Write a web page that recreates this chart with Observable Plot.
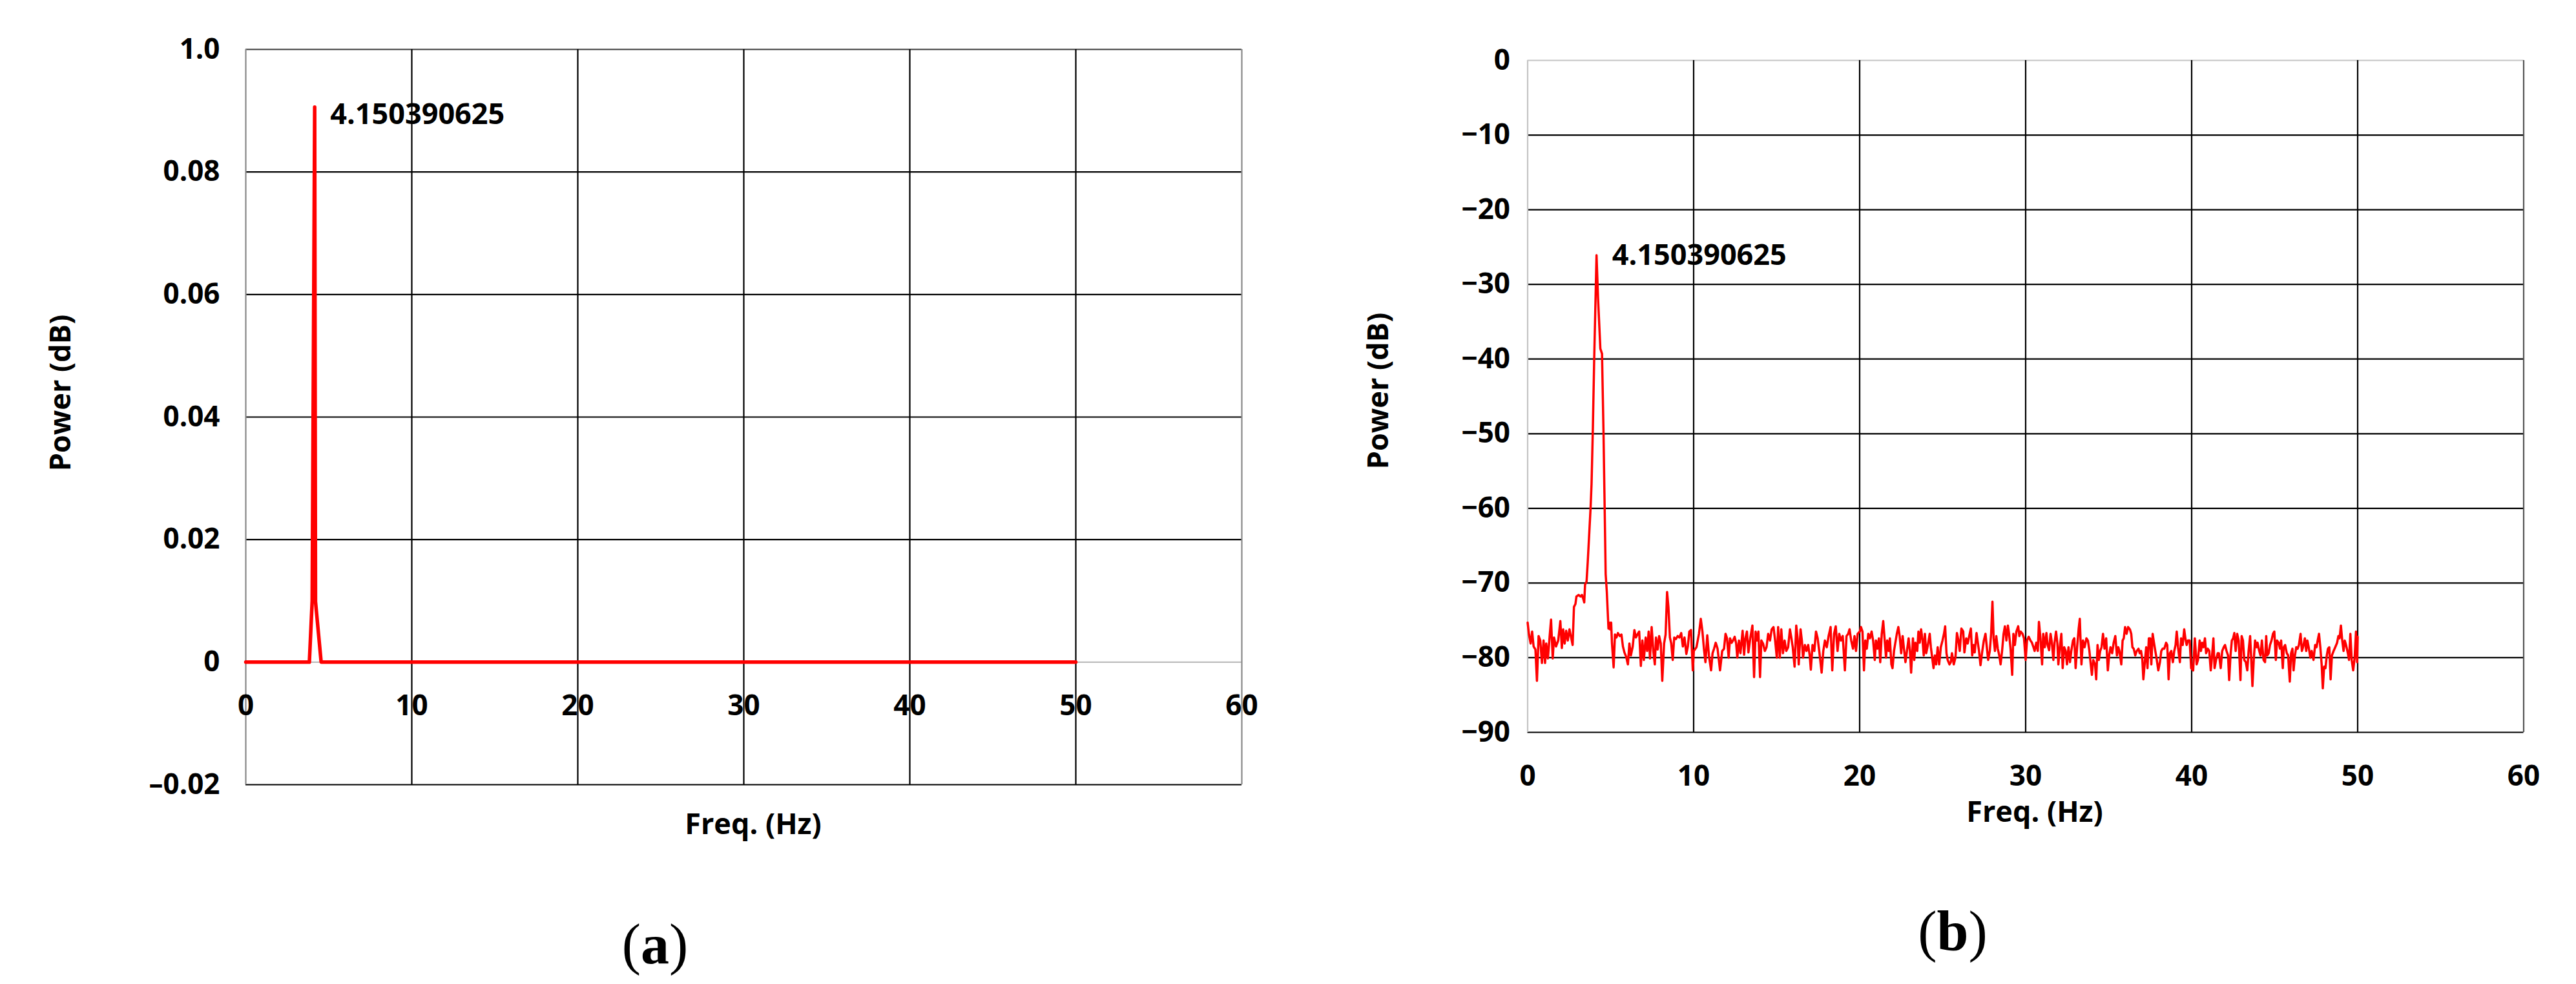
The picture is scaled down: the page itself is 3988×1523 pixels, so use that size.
<!DOCTYPE html>
<html><head><meta charset="utf-8">
<script src="https://cdn.jsdelivr.net/npm/d3@7"></script>
<script src="https://cdn.jsdelivr.net/npm/@observablehq/plot@0.6"></script>
<style>
html,body{margin:0;padding:0;background:#fff;}
#fig{position:relative;width:3988px;height:1523px;background:#fff;overflow:hidden;}
.panel{position:absolute;top:0;}
.lab{position:absolute;font-family:"Open Sans",sans-serif;font-weight:700;font-size:45px;color:#000;white-space:nowrap;transform:translate(-50%,-50%);}
.ylab{transform:translate(-50%,-50%) rotate(-90deg);}
.cap{position:absolute;font-family:"Liberation Serif","Times New Roman",serif;font-size:88px;color:#000;white-space:nowrap;transform:translate(-50%,-50%);}
.cap b{font-weight:700;}
</style></head>
<body><div id="fig"></div>
<script>
// ---------- data ----------
const xTicks = [0, 10, 20, 30, 40, 50, 60];
const yTicksA = [-0.02, 0, 0.02, 0.04, 0.06, 0.08, 0.10];
const yTickLabelsA = ["–0.02", "0", "0.02", "0.04", "0.06", "0.08", "1.0"];
const yTicksB = [-90, -80, -70, -60, -50, -40, -30, -20, -10, 0];
const peakLabel = "4.150390625";
const xLabel = "Freq. (Hz)";
const yLabel = "Power (dB)";

// Panel (a): linear power spectrum
const freqA = [0, 3.83, 4.0, 4.150390625, 4.2, 4.54, 50];
const powerA = [0, 0, 0.01, 0.0906, 0.0099, 0, 0];

// Panel (b): power spectrum in dB, [freq, dB]
const specB_0_10 = [[0.00,-75.3],[0.08,-76.9],[0.18,-78.1],[0.27,-76.5],[0.36,-78.5],[0.47,-78.9],[0.56,-83.1],[0.66,-77.1],[0.76,-77.7],[0.86,-80.7],[0.96,-77.7],[1.05,-80.7],[1.12,-78.1],[1.22,-80.1],[1.32,-77.3],[1.41,-74.9],[1.51,-80.1],[1.59,-77.3],[1.71,-78.5],[1.84,-77.7],[1.97,-75.1],[2.06,-78.7],[2.14,-76.2],[2.23,-78.1],[2.32,-76.4],[2.42,-77.7],[2.52,-76.2],[2.62,-77.3],[2.71,-78.3],[2.79,-73.2],[2.88,-72.8],[2.94,-71.8],[3.07,-71.6],[3.18,-71.8],[3.27,-71.6],[3.36,-72.2],[3.41,-72.6],[3.46,-70.2],[3.55,-69.8],[3.62,-67.2],[3.79,-60.0],[3.85,-56.7],[3.93,-49.1],[4.01,-39.9],[4.10,-31.0],[4.150390625,-26.1],[4.24,-31.8],[4.38,-38.6],[4.48,-39.3],[4.57,-49.9],[4.64,-60.0],[4.70,-68.8],[4.77,-71.2],[4.87,-76.1],[4.92,-75.3],[4.96,-76.2],[5.03,-75.3],[5.08,-78.1],[5.18,-81.3],[5.26,-76.9],[5.35,-77.3],[5.44,-76.7],[5.55,-77.1],[5.65,-76.9],[5.74,-78.5],[5.83,-79.3],[5.94,-79.9],[6.04,-80.9],[6.13,-78.1],[6.22,-79.7],[6.33,-78.5],[6.43,-76.3],[6.52,-77.3],[6.61,-76.9],[6.72,-76.5],[6.82,-81.1],[6.91,-77.7],[7.00,-80.3],[7.11,-77.3],[7.20,-79.1],[7.29,-76.5],[7.37,-80.1],[7.47,-75.9],[7.57,-79.1],[7.66,-80.9],[7.73,-77.3],[7.83,-78.9],[7.92,-77.1],[8.02,-78.1],[8.11,-83.1],[8.22,-78.1],[8.31,-76.9],[8.40,-71.2],[8.48,-73.2],[8.57,-77.3],[8.65,-78.1],[8.74,-80.3],[8.83,-77.3],[8.93,-77.5],[9.04,-77.1],[9.14,-77.3],[9.25,-76.7],[9.35,-78.5],[9.45,-77.3],[9.56,-79.5],[9.65,-78.5],[9.74,-76.5],[9.84,-76.3],[9.95,-81.7]];
const specB_10_20 = [[10.01,-79.1],[10.17,-78.6],[10.32,-76.8],[10.43,-74.8],[10.53,-76.5],[10.62,-78.8],[10.71,-80.6],[10.82,-77.0],[10.92,-79.7],[11.05,-81.7],[11.14,-79.4],[11.23,-78.8],[11.33,-78.0],[11.44,-78.8],[11.59,-81.7],[11.72,-79.1],[11.83,-78.8],[11.92,-76.8],[12.01,-77.4],[12.11,-80.0],[12.19,-77.4],[12.29,-78.0],[12.37,-77.7],[12.47,-77.2],[12.56,-78.1],[12.63,-80.0],[12.73,-77.7],[12.82,-79.4],[12.95,-76.4],[13.04,-79.6],[13.12,-77.4],[13.21,-76.5],[13.30,-79.3],[13.41,-77.4],[13.54,-75.7],[13.64,-82.6],[13.73,-76.5],[13.82,-77.7],[13.90,-76.5],[14.00,-82.6],[14.08,-77.7],[14.18,-78.1],[14.29,-79.1],[14.39,-78.6],[14.49,-76.8],[14.60,-77.7],[14.70,-76.2],[14.81,-75.9],[14.91,-77.7],[15.01,-80.0],[15.09,-75.9],[15.19,-80.0],[15.28,-76.2],[15.38,-79.4],[15.48,-77.7],[15.58,-79.1],[15.69,-78.6],[15.80,-76.2],[15.89,-77.4],[15.97,-78.6],[16.08,-81.2],[16.18,-75.7],[16.26,-77.4],[16.33,-80.9],[16.44,-76.2],[16.52,-77.7],[16.59,-80.0],[16.70,-78.3],[16.80,-79.1],[16.90,-78.3],[16.99,-79.7],[17.06,-81.6],[17.16,-78.3],[17.27,-79.1],[17.37,-76.5],[17.47,-77.4],[17.58,-79.4],[17.71,-82.0],[17.81,-79.1],[17.91,-77.7],[18.02,-78.6],[18.13,-77.1],[18.25,-75.9],[18.35,-81.7],[18.46,-76.8],[18.56,-75.8],[18.67,-79.1],[18.77,-76.8],[18.87,-77.7],[18.98,-77.1],[19.11,-81.7],[19.21,-77.1],[19.31,-76.8],[19.39,-76.2],[19.49,-77.7],[19.60,-78.8],[19.69,-77.1],[19.78,-79.1],[19.88,-76.8],[20.01,-76.5]];
const specB_20_30 = [[20.08,-75.9],[20.17,-76.5],[20.26,-81.7],[20.34,-77.7],[20.43,-78.8],[20.52,-76.8],[20.62,-77.4],[20.72,-76.5],[20.81,-77.7],[20.91,-80.3],[20.98,-77.7],[21.07,-78.8],[21.16,-77.4],[21.24,-80.6],[21.33,-76.8],[21.42,-75.1],[21.50,-77.4],[21.59,-80.0],[21.66,-77.7],[21.75,-79.1],[21.82,-77.4],[21.91,-80.9],[21.98,-81.4],[22.07,-79.1],[22.15,-78.0],[22.24,-76.8],[22.33,-75.9],[22.41,-77.1],[22.50,-79.4],[22.59,-77.1],[22.66,-78.6],[22.76,-80.6],[22.85,-79.1],[22.95,-77.4],[23.03,-79.1],[23.10,-82.0],[23.21,-77.4],[23.29,-80.3],[23.36,-78.0],[23.47,-79.1],[23.54,-76.5],[23.62,-78.0],[23.70,-76.2],[23.79,-77.7],[23.86,-79.7],[23.93,-76.8],[24.01,-79.4],[24.11,-78.3],[24.22,-76.8],[24.29,-78.6],[24.37,-80.0],[24.45,-81.4],[24.53,-79.7],[24.61,-80.9],[24.70,-78.6],[24.79,-80.9],[24.89,-78.6],[24.99,-77.7],[25.08,-76.8],[25.15,-75.8],[25.23,-79.4],[25.30,-80.3],[25.41,-80.9],[25.49,-80.6],[25.56,-79.4],[25.67,-80.9],[25.77,-80.0],[25.86,-76.7],[25.95,-77.7],[26.03,-79.1],[26.13,-76.1],[26.24,-76.5],[26.31,-79.3],[26.42,-77.4],[26.51,-78.1],[26.60,-77.1],[26.70,-76.1],[26.78,-79.7],[26.86,-78.3],[26.93,-79.3],[27.04,-76.7],[27.12,-78.0],[27.19,-79.1],[27.28,-81.0],[27.37,-79.4],[27.48,-77.7],[27.58,-76.8],[27.66,-78.6],[27.74,-80.3],[27.84,-79.1],[27.92,-76.8],[28.00,-72.5],[28.07,-77.4],[28.15,-79.1],[28.23,-77.1],[28.32,-78.8],[28.41,-79.7],[28.49,-80.9],[28.58,-79.1],[28.67,-76.8],[28.75,-75.8],[28.84,-77.7],[28.93,-75.7],[29.00,-76.8],[29.09,-78.8],[29.19,-82.3],[29.26,-76.8],[29.35,-78.3],[29.44,-76.5],[29.55,-75.8],[29.62,-77.1],[29.70,-76.5],[29.81,-76.8],[29.90,-77.4],[30.00,-80.3]];
const specB_30_40 = [[30.08,-77.7],[30.18,-77.2],[30.29,-77.7],[30.38,-78.0],[30.47,-78.6],[30.54,-79.1],[30.64,-78.0],[30.73,-79.1],[30.80,-75.2],[30.89,-77.4],[30.99,-80.9],[31.06,-76.8],[31.15,-78.6],[31.25,-76.7],[31.32,-78.3],[31.41,-79.0],[31.50,-76.8],[31.58,-78.0],[31.67,-80.3],[31.74,-78.0],[31.83,-76.5],[31.91,-78.0],[31.97,-80.9],[32.06,-78.6],[32.15,-76.8],[32.23,-81.4],[32.32,-78.6],[32.41,-79.1],[32.49,-80.9],[32.58,-78.6],[32.67,-80.6],[32.75,-79.1],[32.85,-77.7],[32.93,-77.4],[33.01,-81.4],[33.10,-78.6],[33.19,-76.2],[33.26,-74.8],[33.36,-80.9],[33.45,-77.7],[33.55,-78.6],[33.66,-77.4],[33.75,-77.7],[33.84,-79.1],[33.92,-80.9],[33.99,-82.3],[34.07,-80.3],[34.18,-80.9],[34.25,-82.9],[34.33,-78.3],[34.41,-80.3],[34.49,-79.1],[34.57,-78.6],[34.66,-76.8],[34.75,-78.8],[34.85,-77.4],[34.95,-81.7],[35.03,-79.7],[35.11,-78.6],[35.21,-79.4],[35.30,-78.0],[35.40,-77.1],[35.50,-79.7],[35.58,-78.6],[35.65,-79.1],[35.76,-80.9],[35.84,-77.7],[35.91,-77.4],[35.99,-75.9],[36.08,-76.8],[36.17,-75.9],[36.28,-76.2],[36.36,-76.8],[36.43,-78.6],[36.51,-78.8],[36.60,-79.7],[36.69,-79.1],[36.80,-78.8],[36.87,-79.4],[36.95,-79.1],[37.03,-80.3],[37.09,-82.9],[37.19,-80.3],[37.26,-78.6],[37.34,-81.4],[37.42,-77.4],[37.50,-77.4],[37.57,-80.9],[37.65,-76.8],[37.73,-78.0],[37.81,-79.1],[37.90,-80.3],[37.99,-81.7],[38.09,-80.6],[38.17,-79.1],[38.25,-78.8],[38.35,-78.8],[38.46,-78.0],[38.53,-78.3],[38.61,-82.9],[38.69,-79.4],[38.77,-79.1],[38.87,-80.6],[38.95,-79.1],[39.03,-78.3],[39.10,-76.5],[39.18,-78.6],[39.29,-80.6],[39.36,-77.4],[39.46,-78.3],[39.55,-76.2],[39.62,-77.4],[39.70,-78.3],[39.78,-77.7],[39.88,-77.7],[39.97,-81.4]];
const specB_40_50 = [[40.09,-81.7],[40.19,-77.4],[40.30,-80.9],[40.38,-80.3],[40.48,-77.7],[40.56,-79.1],[40.63,-78.0],[40.71,-78.6],[40.80,-77.4],[40.87,-79.4],[40.97,-78.8],[41.06,-79.1],[41.15,-81.7],[41.23,-79.7],[41.31,-77.4],[41.38,-81.4],[41.47,-80.3],[41.57,-79.4],[41.64,-79.4],[41.75,-81.4],[41.84,-79.1],[41.93,-78.6],[42.01,-78.3],[42.10,-79.1],[42.19,-79.7],[42.26,-83.0],[42.34,-79.7],[42.42,-77.7],[42.50,-77.4],[42.57,-76.7],[42.65,-79.1],[42.74,-76.8],[42.83,-77.7],[42.94,-83.0],[43.01,-77.1],[43.09,-77.7],[43.17,-80.3],[43.26,-80.6],[43.35,-81.7],[43.43,-79.1],[43.52,-77.1],[43.58,-79.7],[43.66,-83.8],[43.74,-80.3],[43.82,-77.7],[43.91,-78.6],[43.97,-78.0],[44.07,-79.1],[44.15,-79.7],[44.23,-77.7],[44.33,-80.3],[44.42,-80.6],[44.49,-77.1],[44.55,-79.7],[44.64,-79.4],[44.72,-78.3],[44.81,-77.7],[44.90,-76.8],[44.98,-76.5],[45.07,-80.3],[45.14,-77.7],[45.24,-78.0],[45.32,-78.8],[45.39,-77.7],[45.49,-81.4],[45.55,-78.6],[45.63,-78.3],[45.73,-79.4],[45.81,-79.7],[45.91,-83.2],[45.99,-79.4],[46.07,-78.8],[46.14,-81.7],[46.22,-79.7],[46.30,-78.6],[46.38,-78.8],[46.46,-78.3],[46.56,-76.8],[46.64,-79.1],[46.71,-78.6],[46.82,-77.4],[46.90,-79.1],[46.97,-77.7],[47.05,-78.6],[47.15,-80.0],[47.23,-79.1],[47.34,-80.3],[47.44,-78.3],[47.52,-78.6],[47.59,-77.7],[47.67,-76.8],[47.75,-78.6],[47.83,-80.9],[47.90,-84.1],[47.98,-81.2],[48.06,-81.4],[48.14,-79.7],[48.21,-78.8],[48.29,-78.6],[48.37,-82.9],[48.45,-79.7],[48.55,-79.1],[48.65,-78.6],[48.76,-78.0],[48.84,-77.1],[48.91,-77.4],[48.99,-75.7],[49.07,-77.7],[49.15,-79.1],[49.22,-77.7],[49.30,-78.3],[49.41,-79.4],[49.48,-80.3],[49.56,-76.8],[49.64,-80.3],[49.73,-81.7],[49.82,-80.0],[49.90,-76.5],[49.97,-80.6],[50.00,-77.2]];

// ---------- build ----------
const dataA = freqA.map((f, i) => ({f, p: powerA[i]}));
const dataB = [].concat(specB_0_10, specB_10_20, specB_20_30, specB_30_40, specB_40_50).map(([f, p]) => ({f, p}));
const peakA = [d3.greatest(dataA, d => d.p)];
const peakB = [d3.greatest(dataB, d => d.p)];
const labelMapA = new Map(yTicksA.map((d, i) => [d, yTickLabelsA[i]]));

const W = 1994, H = 1300;
const FONT = {fontFamily: "'Open Sans', sans-serif", fontWeight: "700", fontSize: "44px", color: "#000", background: "#fff", overflow: "visible"};
const GRID = "#000", GW = 2.2;
const xMin = xTicks[0], xMax = xTicks[xTicks.length - 1];

const chartA = Plot.plot({
  width: W, height: H,
  marginLeft: 380, marginRight: 72, marginTop: 76, marginBottom: 86,
  x: {domain: [xMin, xMax], axis: null},
  y: {domain: [yTicksA[0], yTicksA[yTicksA.length - 1]]},
  style: FONT,
  marks: [
    Plot.ruleY(yTicksA.filter((d, i) => d !== 0 && i < yTicksA.length - 1), {stroke: GRID, strokeWidth: GW}),
    Plot.ruleY(yTicksA.filter(d => d === 0), {stroke: "#bdbdbd", strokeWidth: GW}),
    Plot.ruleY(yTicksA.slice(-1), {stroke: "#3a3a3a", strokeWidth: GW}),
    Plot.ruleX(xTicks.filter(d => d > xMin && d < xMax), {stroke: GRID, strokeWidth: GW}),
    Plot.ruleX([xMin, xMax], {stroke: "#8a8a8a", strokeWidth: GW}),
    Plot.axisY({ticks: yTicksA, tickFormat: d => labelMapA.get(d), tickSize: 0, tickPadding: 40, label: null, fontSize: 44}),
    Plot.text(xTicks, {x: d => d, y: d => 0, text: d => String(d), dy: 68, fontSize: 44, fontWeight: 700}),
    Plot.line(dataA, {x: "f", y: "p", stroke: "#ff0000", strokeWidth: 5.5, strokeLinejoin: "round"}),
    Plot.text(peakA, {x: "f", y: "p", text: d => peakLabel, textAnchor: "start", dx: 24, dy: 12, fontSize: 45, fontWeight: 700})
  ]
});

const chartB = Plot.plot({
  width: W, height: H,
  marginLeft: 370.5, marginRight: 81.5, marginTop: 93, marginBottom: 167,
  x: {domain: [xMin, xMax]},
  y: {domain: [yTicksB[0], yTicksB[yTicksB.length - 1]]},
  style: FONT,
  marks: [
    Plot.ruleY(yTicksB.slice(0, -1), {stroke: GRID, strokeWidth: GW}),
    Plot.ruleY(yTicksB.slice(-1), {stroke: "#c4c4c4", strokeWidth: GW}),
    Plot.ruleX(xTicks.filter(d => d > xMin && d < xMax), {stroke: GRID, strokeWidth: GW}),
    Plot.ruleX([xMin], {stroke: "#c4c4c4", strokeWidth: GW}),
    Plot.ruleX([xMax], {stroke: "#555", strokeWidth: GW}),
    Plot.axisY({ticks: yTicksB, tickFormat: d => d === 0 ? "0" : "\u2212" + Math.abs(d), tickSize: 0, tickPadding: 27, label: null, fontSize: 44}),
    Plot.axisX({ticks: xTicks, tickSize: 0, tickPadding: 51, label: null, fontSize: 44}),
    Plot.line(dataB, {x: "f", y: "p", stroke: "#ff0000", strokeWidth: 3.5, strokeLinejoin: "round"}),
    Plot.text(peakB, {x: "f", y: "p", text: d => peakLabel, textAnchor: "start", dx: 24, dy: 0, fontSize: 45, fontWeight: 700})
  ]
});

const fig = document.getElementById("fig");
function place(node, left) {
  const d = document.createElement("div");
  d.className = "panel"; d.style.left = left + "px"; d.style.width = W + "px"; d.style.height = H + "px";
  d.appendChild(node); fig.appendChild(d);
}
place(chartA, 0);
place(chartB, W);

function label(text, x, y, cls) {
  const d = document.createElement("div");
  d.className = cls; d.style.left = x + "px"; d.style.top = y + "px";
  d.innerHTML = text; fig.appendChild(d);
}
label(yLabel, 91, 608, "lab ylab");
label(yLabel, 2131, 605, "lab ylab");
label(xLabel, 1166, 1273, "lab");
label(xLabel, 3150, 1254, "lab");
label("(<b>a</b>)", 1014, 1461, "cap");
label("(<b>b</b>)", 3023, 1441, "cap");
</script></body></html>
